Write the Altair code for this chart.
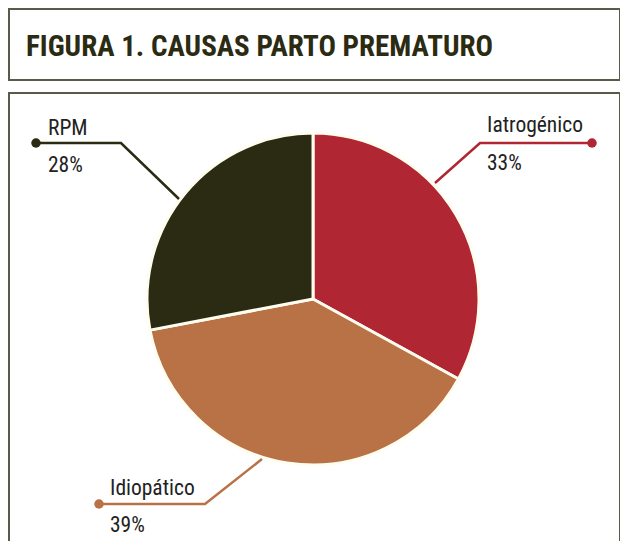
import altair as alt
import pandas as pd

# --- data ---
categories = ["Iatrogénico", "Idiopático", "RPM"]
percent = [33, 39, 28]
colors = ["#B02632", "#B87245", "#2B2A12"]

title_text = "FIGURA 1. CAUSAS PARTO PREMATURO"

# annotation geometry (page pixel space)
callout_dot_x = [592, 99, 36]
callout_dot_y = [143, 504, 143]
callout_elbow_x = [480, 205, 121]
callout_end_x = [435, 262, 179]
callout_end_y = [183, 459, 199]
label_x = [487, 110, 48]
label_name_y = [132, 495, 135]
label_pct_y = [170, 532, 172]

W, H = 612, 533
xs = alt.Scale(domain=[8, 8 + W], nice=False, zero=False)
ys = alt.Scale(domain=[8 + H, 8], nice=False, zero=False)
X = lambda f: alt.X(f, type="quantitative", scale=xs, axis=None)
Y = lambda f: alt.Y(f, type="quantitative", scale=ys, axis=None)

pie_df = pd.DataFrame({"cat": categories, "pct": percent, "idx": [0, 1, 2]})
pie = alt.Chart(pie_df).mark_arc(outerRadius=166, stroke="#FFFDF0", strokeWidth=3).encode(
    theta=alt.Theta("pct:Q", stack=True),
    order=alt.Order("idx:Q"),
    color=alt.Color("cat:N", scale=alt.Scale(domain=categories, range=colors), legend=None),
    x=alt.value(313 - 8),
    y=alt.value(299 - 8),
)

boxes_df = pd.DataFrame({"x": [9, 9], "x2": [620, 620], "y": [9, 93], "y2": [80, 560]})
boxes = alt.Chart(boxes_df).mark_rect(fillOpacity=0, stroke="#5B5A48", strokeWidth=2).encode(
    x=X("x"), x2="x2", y=Y("y"), y2="y2"
)

rows = []
for i, c in enumerate(categories):
    rows.append({"cat": c, "o": 0, "x": callout_dot_x[i], "y": callout_dot_y[i]})
    rows.append({"cat": c, "o": 1, "x": callout_elbow_x[i], "y": callout_dot_y[i]})
    rows.append({"cat": c, "o": 2, "x": callout_end_x[i], "y": callout_end_y[i]})
line_df = pd.DataFrame(rows)
cscale = alt.Scale(domain=categories, range=colors)
lines = alt.Chart(line_df).mark_line(strokeWidth=2.5).encode(
    x=X("x"), y=Y("y"), detail="cat:N", order="o:Q",
    color=alt.Color("cat:N", scale=cscale, legend=None),
)
dots = alt.Chart(line_df[line_df.o == 0]).mark_circle(size=90, opacity=1).encode(
    x=X("x"), y=Y("y"), color=alt.Color("cat:N", scale=cscale, legend=None),
)

lab_df = pd.DataFrame({
    "name": categories,
    "pct": [f"{p}%" for p in percent],
    "x": label_x, "yn": label_name_y, "yp": label_pct_y,
})
font = "Roboto Condensed, DejaVu Sans Condensed, sans-serif"
names = alt.Chart(lab_df).mark_text(align="left", baseline="alphabetic", fontSize=21.5,
                                    font=font, color="#222222").encode(
    x=X("x"), y=Y("yn"), text="name:N")
pcts = alt.Chart(lab_df).mark_text(align="left", baseline="alphabetic", fontSize=21.5,
                                   font=font, color="#222222").encode(
    x=X("x"), y=Y("yp"), text="pct:N")

title_df = pd.DataFrame({"t": [title_text], "x": [26], "y": [56]})
title = alt.Chart(title_df).mark_text(align="left", baseline="alphabetic", fontSize=29,
                                      fontWeight="bold", font=font, color="#2B2A12").encode(
    x=X("x"), y=Y("y"), text="t:N")

chart = alt.layer(boxes, pie, lines, dots, names, pcts, title).properties(
    width=W, height=H, padding=0,
    autosize=alt.AutoSizeParams(type="none"),
    background="white",
).configure_view(stroke=None)

chart.save("out.html", embed_options={"renderer": "svg", "actions": False})
